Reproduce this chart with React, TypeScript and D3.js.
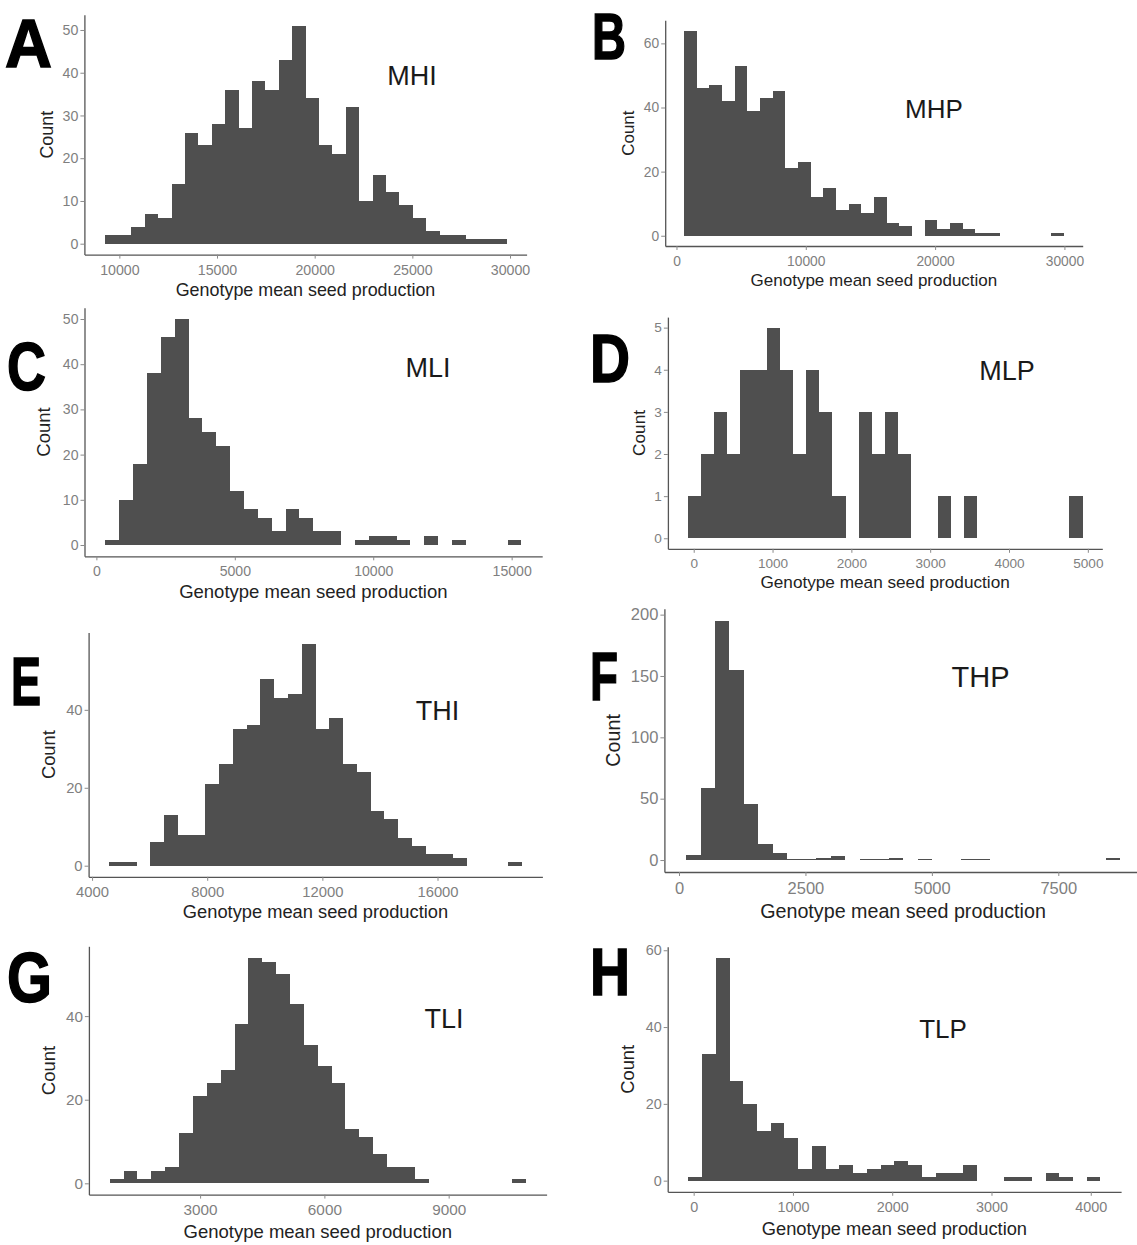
import React, { useEffect, useRef } from 'react';
import * as d3 from 'd3';

const panelLetters = ['A', 'B', 'C', 'D', 'E', 'F', 'G', 'H'];
const panelNames = ['MHI', 'MHP', 'MLI', 'MLP', 'THI', 'THP', 'TLI', 'TLP'];

// left edge of the first bin and the bin width, 30 bins per histogram
const binStarts = [9240, 595, 322, -77, 4596, 140, 818, -54];
const binWidths = [686, 978.4, 501, 167, 477.7, 286, 334.8, 138.4];

const mhiCounts = [2, 2, 4, 7, 6, 14, 26, 23, 28, 36, 27, 38, 36, 43, 51, 34, 23, 21, 32, 10, 16, 12, 9, 6, 3, 2, 2, 1, 1, 1];
const mhpCounts = [64, 46, 47, 42, 53, 39, 43, 45, 21, 23, 12, 15, 8, 10, 7, 12, 4, 3, 0, 5, 2, 4, 2, 1, 1, 0, 0, 0, 0, 1];
const mliCounts = [1, 10, 18, 38, 46, 50, 28, 25, 22, 12, 8, 6, 3, 8, 6, 3, 3, 0, 1, 2, 2, 1, 0, 2, 0, 1, 0, 0, 0, 1];
const mlpCounts = [1, 2, 3, 2, 4, 4, 5, 4, 2, 4, 3, 1, 0, 3, 2, 3, 2, 0, 0, 1, 0, 1, 0, 0, 0, 0, 0, 0, 0, 1];
const thiCounts = [1, 1, 0, 6, 13, 8, 8, 21, 26, 35, 36, 48, 43, 44, 57, 35, 38, 26, 24, 14, 12, 7, 5, 3, 3, 2, 0, 0, 0, 1];
const thpCounts = [4, 59, 195, 155, 46, 13, 6, 1, 1, 2, 3, 0, 1, 1, 2, 0, 1, 0, 0, 1, 1, 0, 0, 0, 0, 0, 0, 0, 0, 2];
const tliCounts = [1, 3, 1, 3, 4, 12, 21, 24, 27, 38, 54, 53, 50, 43, 33, 28, 24, 13, 11, 7, 4, 4, 1, 0, 0, 0, 0, 0, 0, 1];
const tlpCounts = [1, 33, 58, 26, 20, 13, 15, 11, 3, 9, 3, 4, 2, 3, 4, 5, 4, 1, 2, 2, 4, 0, 0, 1, 1, 0, 2, 1, 0, 1];
const allCounts = [mhiCounts, mhpCounts, mliCounts, mlpCounts, thiCounts, thpCounts, tliCounts, tlpCounts];

const xTicks = [
  [10000, 15000, 20000, 25000, 30000],
  [0, 10000, 20000, 30000],
  [0, 5000, 10000, 15000],
  [0, 1000, 2000, 3000, 4000, 5000],
  [4000, 8000, 12000, 16000],
  [0, 2500, 5000, 7500],
  [3000, 6000, 9000],
  [0, 1000, 2000, 3000, 4000],
];
const yTicks = [
  [0, 10, 20, 30, 40, 50],
  [0, 20, 40, 60],
  [0, 10, 20, 30, 40, 50],
  [0, 1, 2, 3, 4, 5],
  [0, 20, 40],
  [0, 50, 100, 150, 200],
  [0, 20, 40],
  [0, 20, 40, 60],
];

// layout (page px): panel frame left, top, right, bottom
const frames = [
  [84.4, 14.8, 526.6, 254.6],
  [665.2, 20.3, 1082.7, 246],
  [84.5, 307.7, 542.2, 556.3],
  [667.9, 317.1, 1102.3, 548.8],
  [88.6, 632.5, 542.4, 876.8],
  [664.4, 608.8, 1141.7, 872],
  [88.9, 946.3, 546.6, 1194.6],
  [667.7, 946.8, 1121.1, 1191.8],
];
const tickFont = [14.2, 13.8, 14.1, 13.6, 14.8, 16.5, 15.3, 14.4];
const titleFont = [17.9, 17, 18.5, 17.2, 18.3, 19.7, 18.5, 18.3];
const titleBase = [296, 286, 598, 588, 918, 918, 1238, 1235];
const countOffset = [38, 37, 41, 28.6, 39.6, 51.7, 40, 39.7];
// letter: x, baseline, width, font size
const letterPos = [
  [5, 67, 47, 68], [592, 59, 34, 64], [7, 390, 39, 68], [590, 382, 40, 68],
  [11, 705, 30, 69], [590, 700, 28, 69], [7, 1002, 45, 70], [590, 995, 40, 67],
];
// panel name: center x, baseline, font size
const namePos = [[412, 85, 27], [934, 118, 26], [428, 377, 27], [1007, 380, 27], [437.5, 720, 27], [980.5, 687, 29], [444, 1028, 27], [943, 1038, 26]];

const FONT = '"Liberation Sans", Arial, sans-serif';
const BAR = '#4f4f4f';

const App = () => {
  const svgRef = useRef(null);

  useEffect(() => {
    const svg = d3.select(svgRef.current);
    svg.selectAll('*').remove();

    allCounts.forEach((counts, p) => {
      const [l, t, r, b] = frames[p];
      const start = binStarts[p];
      const w = binWidths[p];
      const end = start + w * counts.length;
      const pad = (end - start) * 0.05;
      const maxC = d3.max(counts);

      const x = d3.scaleLinear().domain([start - pad, end + pad]).range([l, r]);
      const y = d3.scaleLinear().domain([-0.05 * maxC, 1.05 * maxC]).range([b, t]);

      const g = svg.append('g');

      g.append('g')
        .attr('shape-rendering', 'crispEdges')
        .selectAll('rect')
        .data(counts.map((c, i) => ({ c, i })).filter((d) => d.c > 0))
        .enter()
        .append('rect')
        .attr('x', (d) => x(start + d.i * w))
        .attr('width', (d) => x(start + (d.i + 1) * w) - x(start + d.i * w))
        .attr('y', (d) => y(d.c))
        .attr('height', (d) => y(0) - y(d.c))
        .attr('fill', BAR);

      const xAxis = g
        .append('g')
        .attr('transform', `translate(0,${b})`)
        .call(
          d3.axisBottom(x).tickValues(xTicks[p]).tickSizeInner(4).tickSizeOuter(0).tickPadding(6).tickFormat(d3.format('d'))
        );
      const yAxis = g
        .append('g')
        .attr('transform', `translate(${l},0)`)
        .call(
          d3.axisLeft(y).tickValues(yTicks[p]).tickSizeInner(4).tickSizeOuter(0).tickPadding(2).tickFormat(d3.format('d'))
        );

      [xAxis, yAxis].forEach((ax) => {
        ax.attr('font-family', FONT).attr('font-size', tickFont[p]);
        ax.select('.domain').attr('stroke', '#555').attr('stroke-width', 1.3);
        ax.selectAll('.tick line').attr('stroke', '#8a8a8a').attr('stroke-width', 1);
        ax.selectAll('.tick text').attr('fill', '#7f7f7f');
      });

      g.append('text')
        .attr('x', (l + r) / 2)
        .attr('y', titleBase[p])
        .attr('text-anchor', 'middle')
        .attr('font-family', FONT)
        .attr('font-size', titleFont[p])
        .attr('fill', '#222')
        .text('Genotype mean seed production');

      g.append('text')
        .attr('transform', `translate(${l - countOffset[p]},${(t + b) / 2}) rotate(-90)`)
        .attr('dy', '0.35em')
        .attr('text-anchor', 'middle')
        .attr('font-family', FONT)
        .attr('font-size', titleFont[p])
        .attr('fill', '#222')
        .text('Count');

      const [nx, ny, ns] = namePos[p];
      g.append('text')
        .attr('x', nx)
        .attr('y', ny)
        .attr('text-anchor', 'middle')
        .attr('font-family', FONT)
        .attr('font-size', ns)
        .attr('fill', '#1a1a1a')
        .text(panelNames[p]);

      // big bold panel letter, squeezed horizontally to the reference width
      const [lx, ly, lw, ls] = letterPos[p];
      const letter = g
        .append('text')
        .attr('font-family', FONT)
        .attr('font-weight', 'bold')
        .attr('font-size', ls)
        .attr('fill', '#000')
        .attr('stroke', '#000')
        .attr('stroke-width', 1.5)
        .text(panelLetters[p]);
      const natural = (letter.node() as SVGTextElement).getComputedTextLength() || lw;
      letter.attr('transform', `translate(${lx},${ly}) scale(${lw / natural},1)`);
    });
  }, []);

  return (
    <svg
      ref={svgRef}
      width={1137}
      height={1245}
      style={{ position: 'absolute', left: 0, top: 0, background: '#fff' }}
    ></svg>
  );
};

export default App;
